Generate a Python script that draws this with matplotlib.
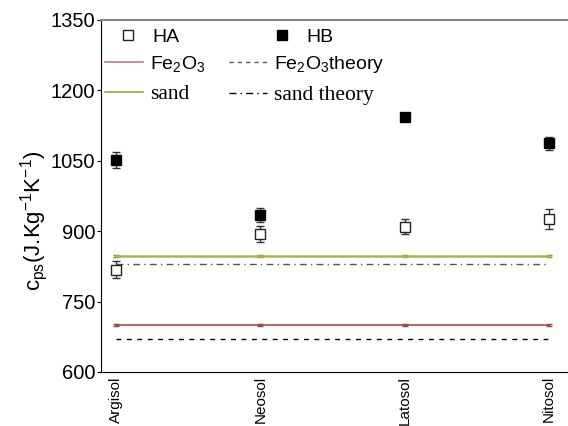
import numpy as np
import matplotlib
matplotlib.use('Agg')
import matplotlib.pyplot as plt
from matplotlib.lines import Line2D

plt.rcParams['font.family'] = ['Liberation Sans', 'DejaVu Sans']
plt.rcParams['mathtext.default'] = 'regular'

### Data
soils = ['Argisol', 'Neosol', 'Latosol', 'Nitosol']
ha_val = [818, 894, 909, 926]
ha_err = [18, 17, 16, 21]
hb_val = [1051, 935, 1144, 1087]
hb_err = [17, 15, 5, 13]
fe2o3_val = [700, 700, 700, 700]
fe2o3_err = [3, 3, 3, 3]
fe2o3_theory = [670, 670, 670, 670]
sand_val = [847, 847, 847, 847]
sand_err = [2, 2, 2, 2]
sand_theory = [830, 830, 830, 830]
yticks = [600, 750, 900, 1050, 1200, 1350]


def main():
    fig = plt.figure(figsize=(5.68, 4.26), dpi=100)
    ax = fig.add_axes([101/568, 54/426, 1-101/568, 352/426])
    x = np.arange(len(soils))

    ### Reference lines
    ax.errorbar(x, fe2o3_val, yerr=fe2o3_err, color='#a33a3a', lw=1.1,
                capsize=2, elinewidth=1, zorder=2)
    ax.plot(x, fe2o3_theory, color='k', lw=1, ls=(0, (3.5, 4)), zorder=2)
    ax.errorbar(x, sand_val, yerr=sand_err, color='#b0b050', lw=1.8,
                capsize=2, elinewidth=2, ecolor='#8c8c10', zorder=2)
    ax.plot(x, sand_theory, color='#555555', lw=1, ls=(0, (5, 3, 1, 3)), zorder=2)

    ### Measured values
    ax.errorbar(x, ha_val, yerr=ha_err, fmt='s', ms=7.5, mfc='white', mec='#222222',
                mew=1, ecolor='#333333', elinewidth=1, capsize=3, zorder=3)
    ax.errorbar(x, hb_val, yerr=hb_err, fmt='s', ms=7.5, mfc='black', mec='black',
                ecolor='#333333', elinewidth=1, capsize=3, zorder=3)

    ax.set_xlim(-0.104, 3.13)
    ax.set_ylim(600, 1350)
    ax.set_yticks(yticks)
    ax.set_xticks(x)
    ax.set_xticklabels(soils, rotation=90, fontsize=11)
    ax.tick_params(axis='y', labelsize=14.5, length=3, pad=1)
    ax.tick_params(axis='x', length=0, pad=3)
    ax.spines['right'].set_visible(False)
    ax.spines['top'].set_color('#888888')
    ax.spines['top'].set_linewidth(1.5)
    ax.set_ylabel(r'c$_{ps}$(J.Kg$^{-1}$K$^{-1}$)', fontsize=16)
    ax.yaxis.set_label_coords(-0.109, 0.43)

    ### Legends
    h_ha = Line2D([], [], ls='none', marker='s', ms=7.5, mfc='white', mec='#222222')
    h_hb = Line2D([], [], ls='none', marker='s', ms=7.5, mfc='black', mec='black')
    leg1 = ax.legend([h_ha, h_hb], ['HA', 'HB'], ncol=2, frameon=False, fontsize=14,
                     loc='upper left', bbox_to_anchor=(116/568, 1-28/426),
                     bbox_transform=fig.transFigure, borderpad=0, borderaxespad=0,
                     handlelength=1.2, handletextpad=0.65, columnspacing=4.7)
    ax.add_artist(leg1)

    h_fe = Line2D([], [], color='#c07878', lw=1.2)
    h_sd = Line2D([], [], color='#a5a530', lw=1.2)
    h_fet = Line2D([], [], color='#555555', lw=1, ls=(0, (3, 3)))
    h_sdt = Line2D([], [], color='k', lw=1, ls=(0, (5, 3, 1, 3)))
    leg2 = ax.legend([h_fe, h_sd, h_fet, h_sdt],
                     [r'$Fe_2O_3$', 'sand', r'$Fe_2O_3$theory', 'sand theory'],
                     ncol=2, frameon=False, fontsize=14, loc='upper left',
                     bbox_to_anchor=(105/568, 1-54/426), bbox_transform=fig.transFigure,
                     borderpad=0, borderaxespad=0, handlelength=1.95,
                     handletextpad=0.36, columnspacing=1.2, labelspacing=0.55)
    for t in leg2.get_texts():
        if t.get_text().startswith('sand'):
            t.set_fontfamily('Liberation Serif')
            t.set_fontsize(15.5)

    fig.savefig('out.png', dpi=100)
    return


if __name__ == "__main__":
    main()
